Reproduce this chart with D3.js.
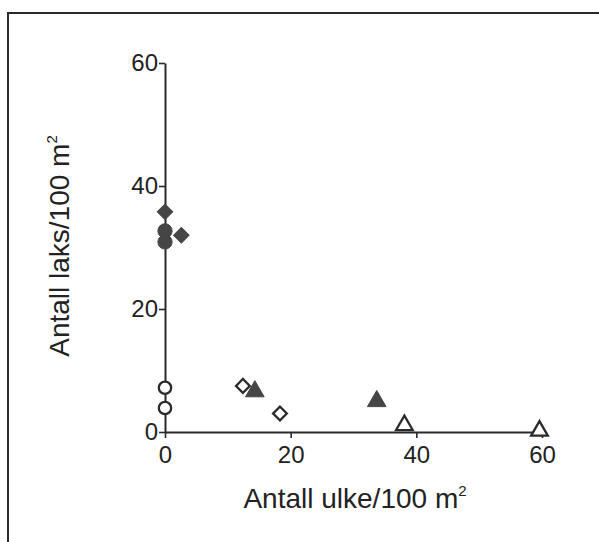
<!DOCTYPE html>
<html>
<head>
<meta charset="utf-8">
<script src="https://cdn.jsdelivr.net/npm/d3@7"></script>
<style>
  html, body { margin: 0; padding: 0; background: #fff; }
  svg { display: block; }
  text { font-family: "Liberation Sans", Arial, Helvetica, sans-serif; fill: #222; }
</style>
</head>
<body>
<svg id="chart" width="599" height="542"></svg>
<script>
// ---- Data ----
const xTicks = [0, 20, 40, 60];
const yTicks = [0, 20, 40, 60];
const xLabel = "Antall ulke/100 m";
const yLabel = "Antall laks/100 m";

// [ulke, laks]
const filledDiamonds = [[0, 35.8], [2.6, 32.0]];
const filledCircles  = [[0, 32.7], [0, 30.9]];
const openCircles    = [[0, 7.2], [0, 3.9]];
const openDiamonds   = [[12.4, 7.5], [18.3, 3.0]];
const filledTriangles = [[14.3, 6.6], [33.7, 5.0]];
const openTriangles  = [[38.1, 1.1], [59.6, 0.2]];

// ---- Drawing ----
const svg = d3.select("#chart");
const ink = "#2a2a2a";
const fillInk = "#454545";

// frame (only top and left edges visible in the photo)
svg.append("rect")
  .attr("x", 8).attr("y", 13).attr("width", 700).attr("height", 700)
  .attr("fill", "none").attr("stroke", ink).attr("stroke-width", 2);

const x = d3.scaleLinear().domain([0, 60]).range([165, 542]);
const y = d3.scaleLinear().domain([0, 60]).range([432, 63]);

const xAxis = d3.axisBottom(x).tickValues(xTicks).tickSize(6).tickSizeOuter(0).tickPadding(5);
const yAxis = d3.axisLeft(y).tickValues(yTicks).tickSize(6).tickSizeOuter(0).tickPadding(1);

const gx = svg.append("g").attr("transform", `translate(0,${y(0)})`).call(xAxis);
const gy = svg.append("g").attr("transform", `translate(${x(0)},0)`).call(yAxis);

[gx, gy].forEach(g => {
  g.attr("font-size", null).attr("font-family", null);
  g.select(".domain").attr("stroke", ink).attr("stroke-width", 2);
  g.selectAll(".tick line").attr("stroke", ink).attr("stroke-width", 1.6);
  g.selectAll(".tick text").style("font-size", "24px").attr("fill", "#222");
});
gx.selectAll(".tick text").attr("dy", "0.85em");

// axis labels
const xl = svg.append("text")
  .attr("x", 355).attr("y", 508)
  .attr("text-anchor", "middle")
  .style("font-size", "28px");
xl.append("tspan").text(xLabel);
xl.append("tspan").style("font-size", "15px").attr("dy", -12).text("2");

const yl = svg.append("text")
  .attr("transform", "translate(69,246) rotate(-90)")
  .attr("text-anchor", "middle")
  .style("font-size", "28px");
yl.append("tspan").text(yLabel);
yl.append("tspan").style("font-size", "15px").attr("dy", -12).text("2");

// markers
const marks = svg.append("g");
function draw(data, type, size, filled, rot) {
  marks.selectAll(null).data(data).enter().append("path")
    .attr("d", d3.symbol().type(type).size(size)())
    .attr("transform", d => `translate(${x(d[0])},${y(d[1])})${rot ? " rotate(45)" : ""}`)
    .attr("fill", filled ? fillInk : "#fff")
    .attr("stroke", filled ? fillInk : ink)
    .attr("stroke-width", filled ? 1 : 2.3);
}
draw(openCircles, d3.symbolCircle, 120, false, false);
draw(openDiamonds, d3.symbolSquare, 95, false, true);
draw(openTriangles, d3.symbolTriangle, 120, false, false);
draw(filledTriangles, d3.symbolTriangle, 150, true, false);
draw(filledCircles, d3.symbolCircle, 160, true, false);
draw(filledDiamonds, d3.symbolSquare, 120, true, true);
</script>
</body>
</html>
